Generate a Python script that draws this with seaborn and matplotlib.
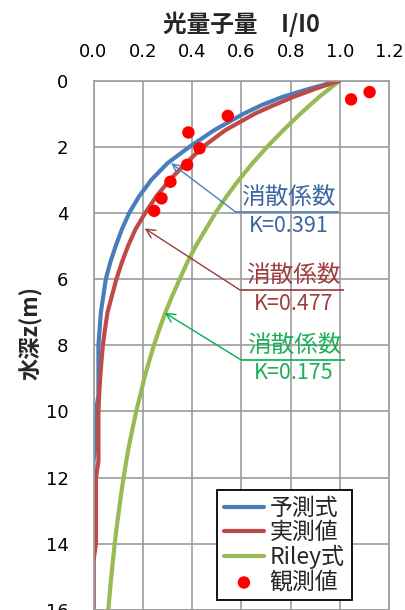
import numpy as np
import pandas as pd
import matplotlib
matplotlib.use("Agg")
import matplotlib.pyplot as plt
import seaborn as sns

# Depth of water (m)
depth = [0.0, 0.25, 0.5, 0.75, 1.0, 1.5, 2.0, 2.5, 3.0, 3.5, 4.0, 4.5, 5.0, 5.5, 6.0, 6.5,
         7.0, 7.5, 8.0, 8.5, 9.0, 9.5, 10.0, 10.5, 11.0, 11.5, 12.0, 12.5, 13.0, 13.5,
         14.0, 14.5, 15.0, 15.5, 16.0]

# Relative photon quantity I/I0 for each curve
predicted = [1.00, 0.875, 0.765, 0.68, 0.61, 0.49, 0.39, 0.30, 0.235, 0.185, 0.145, 0.115,
             0.09, 0.068, 0.05, 0.04, 0.03, 0.025, 0.02, 0.02, 0.02, 0.02, 0.01, 0.01,
             0.01, 0.00, 0.00, 0.00, 0.00, 0.00, 0.00, 0.00, 0.00, 0.00, 0.00]
measured = [1.00, 0.90, 0.81, 0.73, 0.655, 0.535, 0.445, 0.375, 0.31, 0.255, 0.21, 0.17,
            0.14, 0.115, 0.093, 0.075, 0.057, 0.047, 0.038, 0.032, 0.027, 0.023, 0.02,
            0.02, 0.02, 0.02, 0.01, 0.01, 0.01, 0.01, 0.01, 0.00, 0.00, 0.00, 0.00]
riley = [1.00, 0.957, 0.915, 0.877, 0.84, 0.77, 0.705, 0.645, 0.59, 0.54, 0.495, 0.455,
         0.415, 0.38, 0.35, 0.32, 0.292, 0.268, 0.245, 0.225, 0.206, 0.19, 0.173, 0.159,
         0.145, 0.133, 0.122, 0.112, 0.103, 0.094, 0.086, 0.079, 0.072, 0.066, 0.06]

# Observations
obs_depth = [0.35, 0.57, 1.07, 1.57, 2.05, 2.55, 3.06, 3.56, 3.94]
obs_value = [1.12, 1.045, 0.545, 0.385, 0.43, 0.38, 0.312, 0.276, 0.246]

series_labels = ["予測式", "実測値", "Riley式", "観測値"]
k_labels = ["K=0.391", "K=0.477", "K=0.175"]

x_ticks = [0.0, 0.2, 0.4, 0.6, 0.8, 1.0, 1.2]
y_ticks = [0, 2, 4, 6, 8, 10, 12, 14, 16]

sns.set_style("white")
plt.rcParams["font.family"] = ["Noto Sans CJK JP", "DejaVu Sans"]

W, H = 405, 610
fig = plt.figure(figsize=(W / 100, H / 100), dpi=100)
ax = fig.add_axes([93.5 / W, 0.0, 295.8 / W, (H - 80.5) / H])

BLUE, RED, GREEN = "#4A7EBB", "#BE4B48", "#98B954"

curves = pd.DataFrame({"depth": depth, "pred": predicted, "meas": measured, "riley": riley})
obs = pd.DataFrame({"depth": obs_depth, "value": obs_value})

sns.lineplot(data=curves, x="riley", y="depth", sort=False, estimator=None, ax=ax,
             color=GREEN, linewidth=3.0, label=series_labels[2])
sns.lineplot(data=curves, x="pred", y="depth", sort=False, estimator=None, ax=ax,
             color=BLUE, linewidth=3.0, label=series_labels[0])
sns.lineplot(data=curves, x="meas", y="depth", sort=False, estimator=None, ax=ax,
             color=RED, linewidth=3.0, label=series_labels[1])
sns.scatterplot(data=obs, x="value", y="depth", ax=ax, color="#FF0000", s=80,
                edgecolor="none", label=series_labels[3], zorder=5)

ax.set_xlim(0, 1.2)
ax.set_ylim(16, 0)
ax.set_xticks(x_ticks)
ax.set_xticklabels([f"{v:.1f}" for v in x_ticks])
ax.set_yticks(y_ticks)
ax.set_yticklabels([str(v) for v in y_ticks])
ax.xaxis.tick_top()
ax.set_xlabel("")
ax.set_ylabel("")
ax.tick_params(axis="x", length=0, pad=14, labelsize=13, colors="black")
ax.tick_params(axis="y", length=0, pad=18, labelsize=13, colors="black")
for lab in ax.get_xticklabels() + ax.get_yticklabels():
    lab.set_fontfamily(["DejaVu Sans"])

ax.grid(True, color="#9C9C9C", linewidth=1.2)
for sp in ax.spines.values():
    sp.set_visible(True)
    sp.set_color("#9C9C9C")
    sp.set_linewidth(1.2)

# Annotations for the extinction coefficients
annots = [
    # tip, elbow, line end, colour of arrow, colour of text
    ((0.315, 2.50), (0.576, 3.97), 0.997, "#4A7EBB", "#3B66A3", k_labels[0]),
    ((0.208, 4.47), (0.594, 6.33), 1.016, "#9B3B3A", "#9E3E3C", k_labels[1]),
    ((0.289, 7.02), (0.598, 8.44), 1.020, "#00B050", "#1DAE58", k_labels[2]),
]
for tip, elbow, xend, acol, tcol, ktxt in annots:
    ax.annotate("", xy=tip, xytext=elbow,
                arrowprops=dict(arrowstyle="->", color=acol, lw=1.0,
                                shrinkA=0, shrinkB=0, mutation_scale=16))
    ax.plot([elbow[0], xend], [elbow[1], elbow[1]], color=acol, lw=1.2,
            solid_capstyle="butt")
    xc = (elbow[0] + xend) / 2 + 0.005
    ax.text(xc, elbow[1] - 0.1, "消散係数", color=tcol, fontsize=17,
            ha="center", va="bottom")
    ax.text(xc, elbow[1] + 0.08, ktxt, color=tcol, fontsize=15.5,
            ha="center", va="top")

# Legend
handles, labels = ax.get_legend_handles_labels()
order = [labels.index(l) for l in series_labels]
leg = ax.legend([handles[i] for i in order], [labels[i] for i in order],
                loc="upper left", bbox_to_anchor=(217 / W, 1 - 490 / H),
                bbox_transform=fig.transFigure, borderaxespad=0,
                fontsize=16.5, frameon=True, fancybox=False, framealpha=1,
                edgecolor="black", handlelength=1.75, handletextpad=0.25,
                labelspacing=0.05, borderpad=0.3, markerscale=1.0)
leg.get_frame().set_linewidth(1.3)

# Titles
fig.text(241.4 / W, 1 - 24 / H, "光量子量　I/I0", ha="center", va="center",
         fontsize=17, fontweight="bold")
fig.text(31 / W, 1 - 333 / H, "水深z(m)", ha="center", va="center",
         rotation=90, fontsize=16, fontweight="bold")

fig.savefig("out.png", dpi=100)
